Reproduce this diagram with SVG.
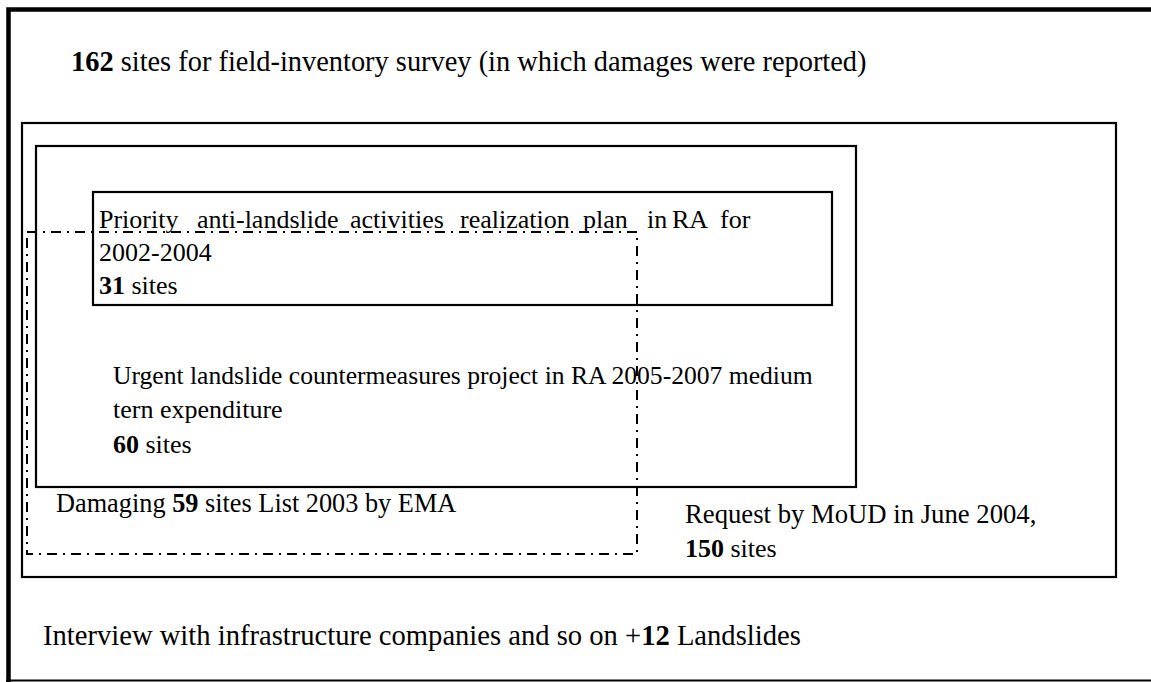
<svg xmlns="http://www.w3.org/2000/svg" width="1151" height="682" viewBox="0 0 1151 682">
<style>
.box{fill:none;stroke:#000;stroke-width:2.2}
.dd{fill:none;stroke:#000;stroke-width:2;stroke-dasharray:10 6 2 6}
.t{font-family:"Liberation Serif","Times New Roman",serif;font-size:26px;fill:#000}
.b{font-weight:bold}
</style>
<rect width="1151" height="682" fill="#fff"/>
<g id="outer">
<path d="M8.5 682 V9.5 H1151" fill="none" stroke="#000" stroke-width="4.5"/>
<path d="M6 680.5 H1151" fill="none" stroke="#000" stroke-width="2"/>
<text class="t" x="71" y="71" style="font-size:28.4px"><tspan class="b">162</tspan> sites for field-inventory survey (in which damages were reported)</text>
<text class="t" x="43" y="645" style="font-size:28.6px">Interview with infrastructure companies and so on +<tspan class="b">12</tspan> Landslides</text>
</g>
<g id="moud">
<rect class="box" x="22" y="123" width="1094" height="454"/>
<text class="t" x="685" y="523" style="font-size:26.7px">Request by MoUD in June 2004,</text>
<text class="t" x="685" y="557"><tspan class="b">150</tspan> sites</text>
</g>
<g id="urgent">
<rect class="box" x="36" y="146" width="820" height="341"/>
<text class="t" x="113" y="384" style="font-size:25.6px">Urgent landslide countermeasures project in RA 2005-2007 medium</text>
<text class="t" x="113" y="418">tern expenditure</text>
<text class="t" x="113" y="453"><tspan class="b">60</tspan> sites</text>
</g>
<g id="priority">
<rect class="box" x="93" y="192" width="739" height="113"/>
<text class="t" y="228"><tspan x="99">Priority</tspan><tspan x="197">anti-landslide</tspan><tspan x="350">activities</tspan><tspan x="460">realization</tspan><tspan x="583">plan</tspan><tspan x="647">in</tspan><tspan x="672">RA</tspan><tspan x="720">for</tspan></text>
<text class="t" x="99" y="261">2002-2004</text>
<text class="t" x="99" y="294"><tspan class="b">31</tspan> sites</text>
</g>
<g id="ema">
<rect class="dd" x="27" y="232" width="610" height="322"/>
<text class="t" x="56" y="512" style="font-size:26.3px">Damaging <tspan class="b">59</tspan> sites List 2003 by EMA</text>
</g>
<g id="connectors"/>
</svg>
